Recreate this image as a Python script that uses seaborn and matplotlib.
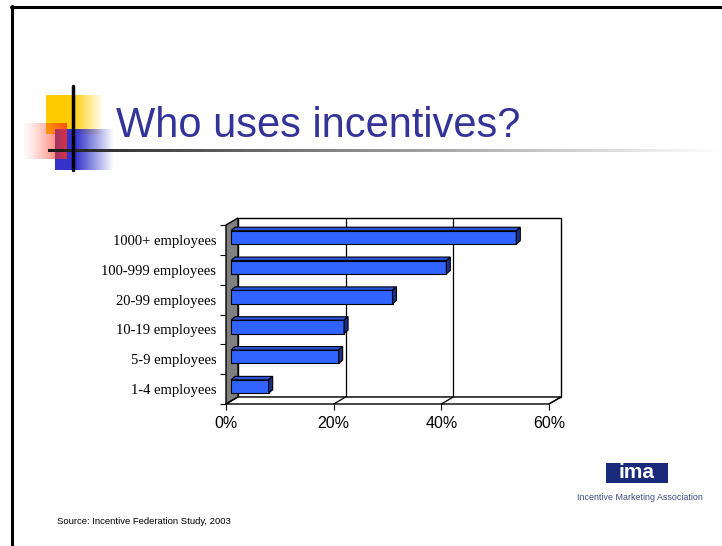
import numpy as np
import pandas as pd
import matplotlib
matplotlib.use('Agg')
import matplotlib.pyplot as plt
import matplotlib.transforms as mtransforms
from matplotlib.patches import Polygon, Rectangle
import seaborn as sns

# data
categories = ['1000+ employees', '100-999 employees', '20-99 employees',
              '10-19 employees', '5-9 employees', '1-4 employees']
shares = [53, 40, 30, 21, 20, 7]
x_ticks = [0, 20, 40, 60]
x_tick_labels = ['0%', '20%', '40%', '60%']

df = pd.DataFrame({'size': categories, 'share': shares})

sns.set_theme(style='white')
plt.rcParams['font.family'] = ['Liberation Sans', 'DejaVu Sans']

W, H, DPI = 722, 546, 100
fig = plt.figure(figsize=(W / DPI, H / DPI), dpi=DPI)
fig.patch.set_facecolor('white')

# front plane of the 3d box, in pixels
ax_l, ax_r, ax_t, ax_b = 226, 549, 225, 404
ax = fig.add_axes([ax_l / W, 1 - ax_b / H, (ax_r - ax_l) / W, (ax_b - ax_t) / H])

front_col = '#3063FF'
top_col = '#2A52D8'
side_col = '#1B2F86'

sns.barplot(data=df, x='share', y='size', orient='h', color=front_col,
            saturation=1, width=0.45, edgecolor='black', linewidth=0.8,
            errorbar=None, ax=ax)
bars = list(ax.patches)

ax.set_xlim(0, 60)
ax.set_ylim(5.5, -0.5)
ax.set_xlabel('')
ax.set_ylabel('')
ax.set_facecolor('none')
for s in ax.spines.values():
    s.set_visible(False)

# depth of the box, pixels -> data units
px_x = 60 / (ax_r - ax_l)
px_y = 6 / (ax_b - ax_t)
ddx, ddy = 12 * px_x, -7 * px_y

# back wall + gridlines
ax.add_patch(Rectangle((ddx, -0.5 + ddy), 60, 6, facecolor='white',
                       edgecolor='black', lw=1, zorder=0.2, clip_on=False))
for xt in x_ticks[1:-1]:
    ax.plot([xt + ddx, xt + ddx], [-0.5 + ddy, 5.5 + ddy], color='black',
            lw=0.9, zorder=0.3, clip_on=False)

# left wall (grey) and floor
ax.add_patch(Polygon([(0, 5.5), (ddx, 5.5 + ddy), (ddx, -0.5 + ddy), (0, -0.5)],
                     closed=True, facecolor='#808080', edgecolor='black', lw=1,
                     zorder=1, clip_on=False))
ax.add_patch(Polygon([(0, 5.5), (60, 5.5), (60 + ddx, 5.5 + ddy), (ddx, 5.5 + ddy)],
                     closed=True, facecolor='white', edgecolor='black', lw=1,
                     zorder=1, clip_on=False))
for xt in x_ticks:
    ax.plot([xt, xt + ddx], [5.5, 5.5 + ddy], color='black', lw=0.9,
            zorder=1.1, clip_on=False)

# bars sit a bit behind the front plane, with their own small depth
bar_tr = ax.transData + mtransforms.ScaledTranslation(5 / DPI, 2.5 / DPI, fig.dpi_scale_trans)
kdx, kdy = 4 * px_x, -3.5 * px_y
for p in bars:
    p.set_transform(bar_tr)
    p.set_zorder(3)
    x0, y0 = p.get_x(), p.get_y()
    x1, y1 = x0 + p.get_width(), y0 + p.get_height()
    ytop = min(y0, y1)
    ybot = max(y0, y1)
    top = Polygon([(x0, ytop), (x1, ytop), (x1 + kdx, ytop + kdy), (x0 + kdx, ytop + kdy)],
                  closed=True, facecolor=top_col, edgecolor='black', lw=0.8,
                  transform=bar_tr, zorder=3, clip_on=False)
    side = Polygon([(x1, ytop), (x1 + kdx, ytop + kdy), (x1 + kdx, ybot + kdy), (x1, ybot)],
                   closed=True, facecolor=side_col, edgecolor='black', lw=0.8,
                   transform=bar_tr, zorder=3, clip_on=False)
    ax.add_patch(top)
    ax.add_patch(side)

# ticks
ax.set_xticks(x_ticks, x_tick_labels)
ax.tick_params(axis='x', bottom=True, length=4, width=0.8, color='black',
               direction='out', pad=5, labelsize=11.5, labelcolor='black')
ax.set_yticks(np.arange(-0.5, 6, 1), minor=True)
ax.tick_params(axis='y', which='minor', left=True, length=4, width=0.8,
               color='black', direction='out')
ax.tick_params(axis='y', which='major', left=False, length=0, pad=7)
for lab in ax.get_yticklabels():
    lab.set_fontfamily(['Liberation Serif', 'DejaVu Serif'])
    lab.set_fontsize(10.5)
    lab.set_color('black')

# slide decorations in pixel coordinates
deco = fig.add_axes([0, 0, 1, 1], zorder=-1)
deco.set_xlim(0, W)
deco.set_ylim(H, 0)
deco.axis('off')

# slide border
deco.plot([12, 12], [6, H], color='black', lw=2.2)
deco.plot([11, W], [6.5, 6.5], color='black', lw=2.2)


def ramp_img(rgb, alpha):
    img = np.zeros((2, len(alpha), 4))
    img[..., :3] = rgb
    img[..., 3] = alpha
    return img


t = np.linspace(0, 1, 120)
yellow = ramp_img((1.0, 0.8, 0.0), np.clip(1 - (t - 0.45) / 0.55, 0, 1))
deco.imshow(yellow, extent=(46, 104, 134, 95), aspect='auto', interpolation='bilinear')
blue = ramp_img((0.2, 0.2, 0.8), np.clip(1 - (t - 0.35) / 0.65, 0, 1))
deco.imshow(blue, extent=(55, 114, 170, 129), aspect='auto', interpolation='bilinear')
red = ramp_img((1.0, 0.2, 0.1), 0.8 * t ** 1.3)
deco.imshow(red, extent=(22, 67, 159, 123), aspect='auto', interpolation='bilinear')

# gradient rule under the title
line = np.ones((2, 300, 3)) * (0.1 + 0.9 * np.linspace(0, 1, 300) ** 0.9)[None, :, None]
deco.imshow(line, extent=(48, W, 152.5, 149.5), aspect='auto', interpolation='bilinear')
deco.plot([73, 73], [86, 170], color='black', lw=2.5)

deco.set_xlim(0, W)
deco.set_ylim(H, 0)

deco.text(116, 137, 'Who uses incentives?', fontsize=30, color='#333399', va='baseline')

# logo
deco.add_patch(Rectangle((606, 463), 62, 20, facecolor='#1A2A7A', edgecolor='none'))
deco.text(637, 473, 'ima', color='white', fontsize=15, fontweight='bold',
          ha='center', va='center')
deco.text(640, 497, 'Incentive Marketing Association', color='#3B4B80',
          fontsize=6.4, ha='center', va='center')

deco.text(57, 522, 'Source: Incentive Federation Study, 2003', fontsize=6.8,
          color='black', va='center')

fig.savefig('out.png', dpi=DPI)
